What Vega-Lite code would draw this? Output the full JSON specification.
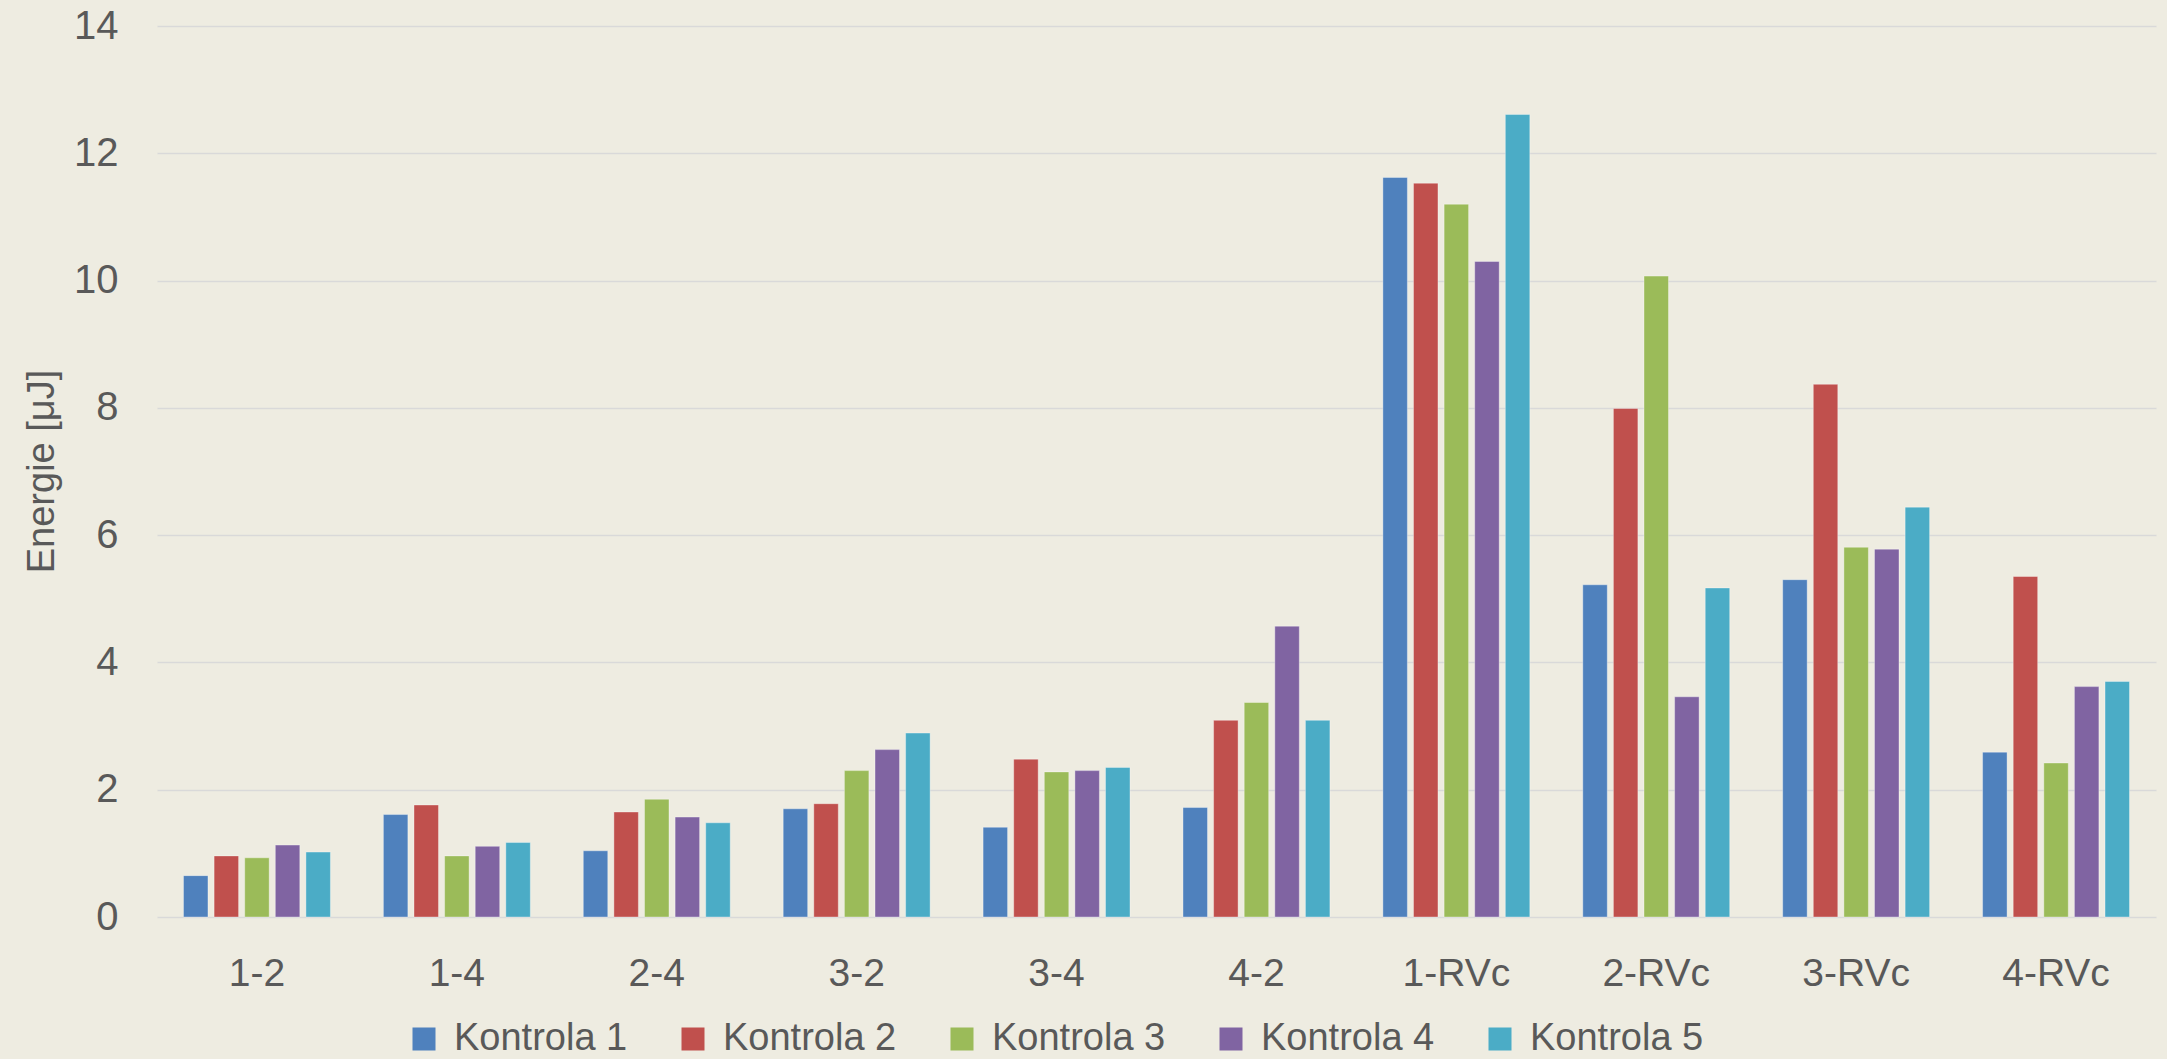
{
  "$schema": "https://vega.github.io/schema/vega-lite/v6.json",
  "width": 1999,
  "height": 891,
  "autosize": {"type": "none"},
  "padding": {"left": 157, "top": 26, "right": 11, "bottom": 142},
  "background": "#EEECE1",
  "config": {
    "view": {"stroke": null},
    "font": "Liberation Sans",
    "axis": {"labelColor": "#595959", "titleColor": "#595959", "labelFont": "Liberation Sans", "titleFont": "Liberation Sans"},
    "legend": {"labelColor": "#595959", "labelFont": "Liberation Sans"}
  },
  "data": {
    "values": [
      {"cat": "1-2", "k": "Kontrola 1", "v": 0.65},
      {"cat": "1-2", "k": "Kontrola 2", "v": 0.96},
      {"cat": "1-2", "k": "Kontrola 3", "v": 0.93},
      {"cat": "1-2", "k": "Kontrola 4", "v": 1.13},
      {"cat": "1-2", "k": "Kontrola 5", "v": 1.02},
      {"cat": "1-4", "k": "Kontrola 1", "v": 1.61},
      {"cat": "1-4", "k": "Kontrola 2", "v": 1.76},
      {"cat": "1-4", "k": "Kontrola 3", "v": 0.96},
      {"cat": "1-4", "k": "Kontrola 4", "v": 1.11},
      {"cat": "1-4", "k": "Kontrola 5", "v": 1.17},
      {"cat": "2-4", "k": "Kontrola 1", "v": 1.04},
      {"cat": "2-4", "k": "Kontrola 2", "v": 1.65},
      {"cat": "2-4", "k": "Kontrola 3", "v": 1.85},
      {"cat": "2-4", "k": "Kontrola 4", "v": 1.57},
      {"cat": "2-4", "k": "Kontrola 5", "v": 1.48},
      {"cat": "3-2", "k": "Kontrola 1", "v": 1.70},
      {"cat": "3-2", "k": "Kontrola 2", "v": 1.78},
      {"cat": "3-2", "k": "Kontrola 3", "v": 2.30},
      {"cat": "3-2", "k": "Kontrola 4", "v": 2.63},
      {"cat": "3-2", "k": "Kontrola 5", "v": 2.89},
      {"cat": "3-4", "k": "Kontrola 1", "v": 1.41},
      {"cat": "3-4", "k": "Kontrola 2", "v": 2.48},
      {"cat": "3-4", "k": "Kontrola 3", "v": 2.28},
      {"cat": "3-4", "k": "Kontrola 4", "v": 2.30},
      {"cat": "3-4", "k": "Kontrola 5", "v": 2.35},
      {"cat": "4-2", "k": "Kontrola 1", "v": 1.72},
      {"cat": "4-2", "k": "Kontrola 2", "v": 3.09},
      {"cat": "4-2", "k": "Kontrola 3", "v": 3.37},
      {"cat": "4-2", "k": "Kontrola 4", "v": 4.57},
      {"cat": "4-2", "k": "Kontrola 5", "v": 3.09},
      {"cat": "1-RVc", "k": "Kontrola 1", "v": 11.62},
      {"cat": "1-RVc", "k": "Kontrola 2", "v": 11.53},
      {"cat": "1-RVc", "k": "Kontrola 3", "v": 11.20},
      {"cat": "1-RVc", "k": "Kontrola 4", "v": 10.30},
      {"cat": "1-RVc", "k": "Kontrola 5", "v": 12.61},
      {"cat": "2-RVc", "k": "Kontrola 1", "v": 5.22},
      {"cat": "2-RVc", "k": "Kontrola 2", "v": 7.99},
      {"cat": "2-RVc", "k": "Kontrola 3", "v": 10.07},
      {"cat": "2-RVc", "k": "Kontrola 4", "v": 3.46},
      {"cat": "2-RVc", "k": "Kontrola 5", "v": 5.17},
      {"cat": "3-RVc", "k": "Kontrola 1", "v": 5.30},
      {"cat": "3-RVc", "k": "Kontrola 2", "v": 8.37},
      {"cat": "3-RVc", "k": "Kontrola 3", "v": 5.81},
      {"cat": "3-RVc", "k": "Kontrola 4", "v": 5.78},
      {"cat": "3-RVc", "k": "Kontrola 5", "v": 6.44},
      {"cat": "4-RVc", "k": "Kontrola 1", "v": 2.59},
      {"cat": "4-RVc", "k": "Kontrola 2", "v": 5.35},
      {"cat": "4-RVc", "k": "Kontrola 3", "v": 2.42},
      {"cat": "4-RVc", "k": "Kontrola 4", "v": 3.62},
      {"cat": "4-RVc", "k": "Kontrola 5", "v": 3.70}
    ]
  },
  "mark": {"type": "bar", "stroke": "#ffffff", "strokeOpacity": 0.35, "strokeWidth": 1},
  "encoding": {
    "x": {
      "field": "cat",
      "type": "nominal",
      "sort": null,
      "scale": {"paddingInner": 0.265, "paddingOuter": 0.1325},
      "axis": {
        "title": null,
        "labelAngle": 0,
        "labelFontSize": 39,
        "labelPadding": 68,
        "labelBaseline": "alphabetic",
        "ticks": false,
        "domain": false,
        "grid": false
      }
    },
    "xOffset": {
      "field": "k",
      "type": "nominal",
      "scale": {"paddingInner": 0.2, "paddingOuter": 0}
    },
    "y": {
      "field": "v",
      "type": "quantitative",
      "scale": {"domain": [0, 14], "nice": false},
      "axis": {
        "title": "Energie [μJ]",
        "titleFontSize": 38,
        "titleFontWeight": "normal",
        "titleAngle": -90,
        "titleX": -115,
        "titleY": 445,
        "titleAlign": "center",
        "titleBaseline": "middle",
        "values": [0, 2, 4, 6, 8, 10, 12, 14],
        "labelFontSize": 40,
        "labelPadding": 39,
        "ticks": false,
        "domain": false,
        "grid": true,
        "gridColor": "#D9D9D9",
        "gridWidth": 1.5
      }
    },
    "color": {
      "field": "k",
      "type": "nominal",
      "scale": {
        "domain": ["Kontrola 1", "Kontrola 2", "Kontrola 3", "Kontrola 4", "Kontrola 5"],
        "range": ["#4F81BD", "#C0504D", "#9BBB59", "#8064A2", "#4BACC6"]
      },
      "legend": {
        "title": null,
        "orient": "none",
        "direction": "horizontal",
        "columns": 5,
        "legendX": 248,
        "legendY": 994,
        "padding": 0,
        "symbolType": "square",
        "symbolSize": 529,
        "symbolStrokeWidth": 0,
        "symbolOpacity": 1,
        "labelFontSize": 38,
        "labelOffset": 11,
        "columnPadding": 46,
        "labelLimit": 400
      }
    }
  }
}
